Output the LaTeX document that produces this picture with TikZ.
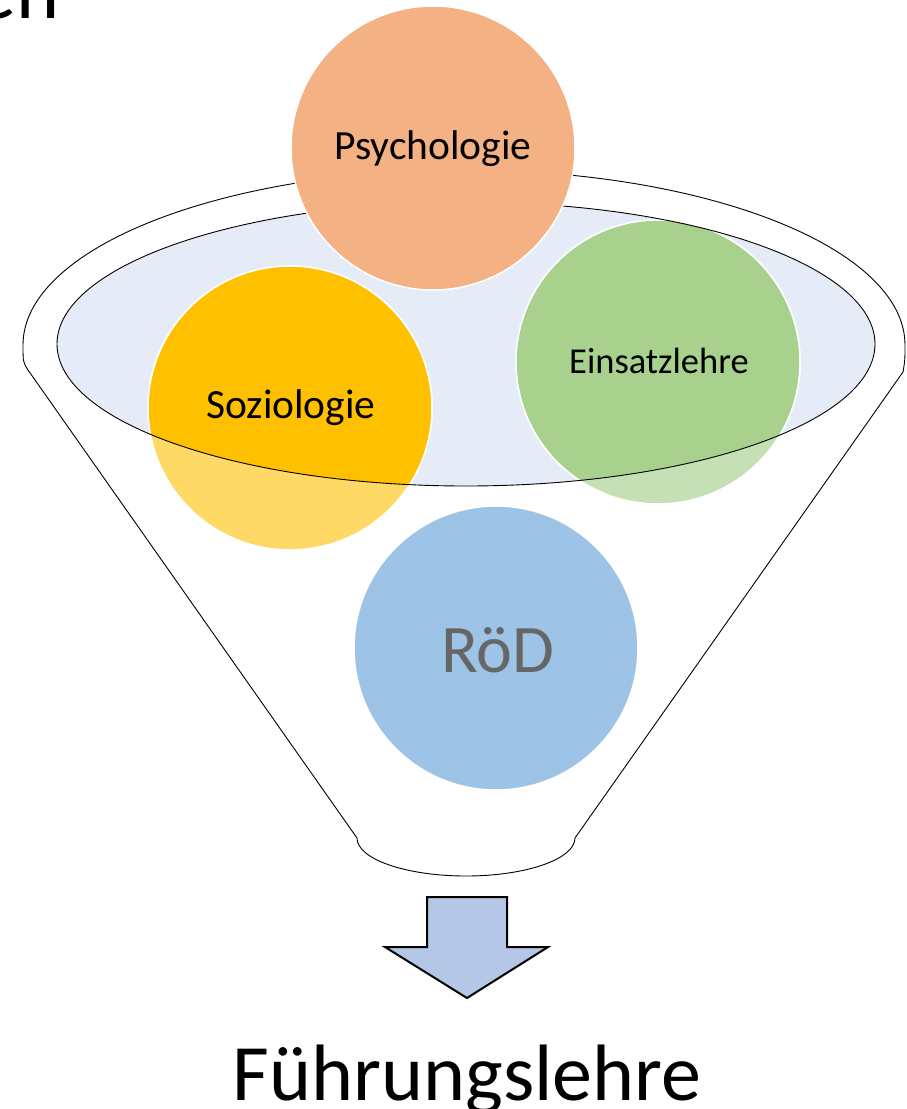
\documentclass[tikz,border=0pt]{standalone}
\usepackage{fontspec}
\setmainfont{Carlito}
\definecolor{ellfill}{HTML}{E6ECF7}
\definecolor{psyc}{HTML}{F4B183}
\definecolor{sozdark}{HTML}{FFC000}
\definecolor{sozlight}{HTML}{FFD966}
\definecolor{eindark}{HTML}{A9D18E}
\definecolor{einlight}{HTML}{C5E0B4}
\definecolor{rodc}{HTML}{9DC3E6}
\definecolor{rodtext}{HTML}{666666}
\definecolor{arrowc}{HTML}{B4C7E7}
\begin{document}
\begin{tikzpicture}[x=1pt,y=-1pt,
  ball/.style={circle, minimum size=284pt, inner sep=0pt, draw=white, line width=1.5pt},
  lbl/.style={anchor=base, inner sep=0pt, text=black},
  rim/.style={draw=black, line width=0.9pt},
]
\useasboundingbox (0,0) rectangle (907,1109);
% clipped title fragment
\begin{scope}
  \clip (0,0) rectangle (907,1109);
  \node[anchor=base east, inner sep=0pt, font=\fontsize{82}{82}\selectfont] (title) at (60,18) {en};
\end{scope}
% funnel outline
\draw[rim, fill=white] (28,370) .. controls (23,362) .. (23,345)
  arc[start angle=180, end angle=360, x radius=441, y radius=175]
  .. controls (905,360) .. (903,372) -- (575,838)
  arc[start angle=0, end angle=180, x radius=109, y radius=38] -- cycle;
% inner ellipse fill
\fill[ellfill] (466,344) ellipse [x radius=409, y radius=142];
% lower circles (light parts)
\node[ball, fill=sozlight] (soz) at (290,408) {};
\node[ball, fill=einlight] (ein) at (658,362) {};
% darker parts inside the ellipse
\begin{scope}
  \clip (466,344) ellipse [x radius=409, y radius=142];
  \fill[sozdark, draw=white, line width=1.5pt] (soz.center) circle (142);
  \fill[eindark, draw=white, line width=1.5pt] (ein.center) circle (142);
\end{scope}
% inner ellipse outline
\draw[rim] (466,344) ellipse [x radius=409, y radius=142];
% RöD circle
\node[ball, fill=rodc] (rod) at (496,648) {};
% Psychologie circle on top
\node[ball, fill=psyc] (psy) at (433,148) {};
% labels
\node[lbl, font=\fontsize{41.5}{41.5}\selectfont] (psyt) at (433,159) {Psychologie};
\node[lbl, font=\fontsize{41.5}{41.5}\selectfont] (sozt) at (291,418) {Soziologie};
\node[lbl, font=\fontsize{36.5}{36.5}\selectfont] (eint) at (659,373) {Einsatzlehre};
\node[lbl, text=rodtext, font=\fontsize{68}{68}\selectfont] (rodt) at (498,672) {RöD};
% arrow
\draw[fill=arrowc, draw=black, line width=2pt, line join=miter]
  (427,897) -- (507,897) -- (507,947) -- (548,947) -- (467,998)
  -- (385,947) -- (427,947) -- cycle;
\node[lbl, font=\fontsize{80}{80}\selectfont] (res) at (467,1100) {Führungslehre};
\end{tikzpicture}
\end{document}
